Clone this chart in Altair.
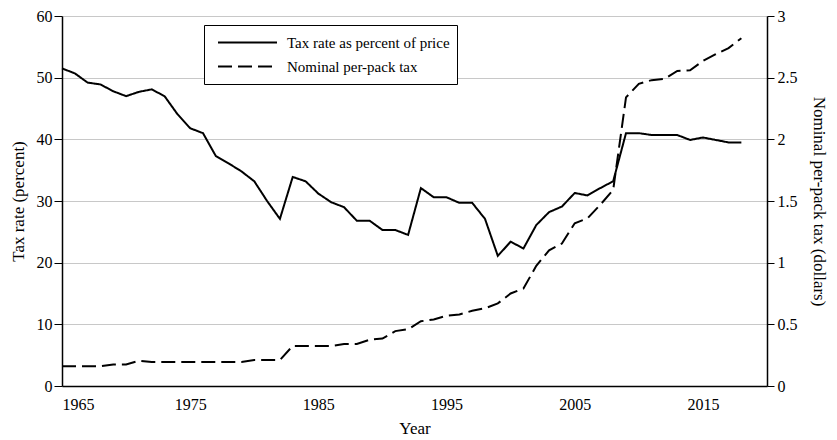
import altair as alt
import pandas as pd

years = list(range(1965, 2019))
tax_rate = [51.5, 50.7, 49.2, 48.9, 47.8, 47.0, 47.7, 48.1, 47.0, 44.1,
            41.8, 41.0, 37.3, 36.1, 34.8, 33.2, 30.0, 27.1, 33.9, 33.2,
            31.2, 29.8, 29.0, 26.8, 26.8, 25.3, 25.3, 24.5, 32.1, 30.6,
            30.6, 29.7, 29.7, 27.1, 21.1, 23.4, 22.3, 26.1, 28.2, 29.1,
            31.3, 30.9, 32.1, 33.2, 41.0, 41.0, 40.7, 40.7, 40.7, 39.9,
            40.3, 39.9, 39.5, 39.5]
per_pack = [0.16, 0.16, 0.16, 0.16, 0.175, 0.175, 0.205, 0.195, 0.195, 0.195,
            0.195, 0.195, 0.195, 0.195, 0.195, 0.21, 0.21, 0.21, 0.325, 0.325,
            0.325, 0.325, 0.34, 0.34, 0.375, 0.385, 0.445, 0.46, 0.525, 0.54,
            0.57, 0.58, 0.61, 0.63, 0.67, 0.75, 0.79, 0.975, 1.10, 1.155,
            1.32, 1.36, 1.47, 1.59, 2.34, 2.45, 2.48, 2.49, 2.555, 2.56,
            2.635, 2.69, 2.74, 2.82]
series_names = ["Tax rate as percent of price", "Nominal per-pack tax"]
x_ticks = [1965, 1975, 1985, 1995, 2005, 2015]
left_ticks = [0, 10, 20, 30, 40, 50, 60]
right_ticks = [0, 0.5, 1, 1.5, 2, 2.5, 3]

df_rate = pd.DataFrame({"year": years, "value": tax_rate, "series": series_names[0]})
df_pack = pd.DataFrame({"year": years, "value": per_pack, "series": series_names[1]})

font = "Liberation Serif"

legend = alt.Legend(
    title=None, orient="none", legendX=142, legendY=9,
    symbolType="stroke", symbolSize=3481, symbolStrokeWidth=2,
    symbolStrokeColor="black", clipHeight=21, rowPadding=3, padding=7,
    symbolOffset=6, labelOffset=9, labelFont=font, labelFontSize=15,
    labelLimit=300, strokeColor="black", fillColor="white", labelColor="black",
)
dash = alt.StrokeDash(
    "series:N",
    scale=alt.Scale(domain=series_names, range=[[1, 0], [14, 6]]),
    legend=legend,
)

x = alt.X(
    "year:Q",
    scale=alt.Scale(domain=[1965, 2020], nice=False, zero=False),
    axis=alt.Axis(values=x_ticks, format="d", title="Year", ticks=False,
                  tickSize=0, labelPadding=10, titlePadding=8, grid=False),
)

left = alt.Chart(df_rate).mark_line(color="black", strokeWidth=2).encode(
    x=x,
    y=alt.Y("value:Q", scale=alt.Scale(domain=[0, 60], nice=False),
            axis=alt.Axis(values=left_ticks, title="Tax rate (percent)",
                          grid=True, gridColor="#c8c8c8", tickSize=8,
                          labelPadding=2, titlePadding=9)),
    strokeDash=dash,
)

right = alt.Chart(df_pack).mark_line(color="black", strokeWidth=2).encode(
    x=x,
    y=alt.Y("value:Q", scale=alt.Scale(domain=[0, 3], nice=False),
            axis=alt.Axis(orient="right", values=right_ticks, format="~g",
                          title="Nominal per-pack tax (dollars)", grid=False,
                          tickSize=7, labelPadding=3, titlePadding=12)),
    strokeDash=dash,
)

chart = alt.layer(left, right).resolve_scale(y="independent").properties(
    width=705, height=370,
    autosize=alt.AutoSizeParams(type="none"),
    padding={"left": 54, "top": 8, "right": 62, "bottom": 54},
).configure_view(stroke=None).configure_axis(
    labelFont=font, titleFont=font, labelFontSize=16, titleFontSize=17,
    labelColor="black", titleColor="black", titleFontWeight="normal",
    domainColor="black", tickColor="black", domainWidth=1.5,
)

chart.save("out.html", embed_options={"renderer": "svg", "actions": False})
